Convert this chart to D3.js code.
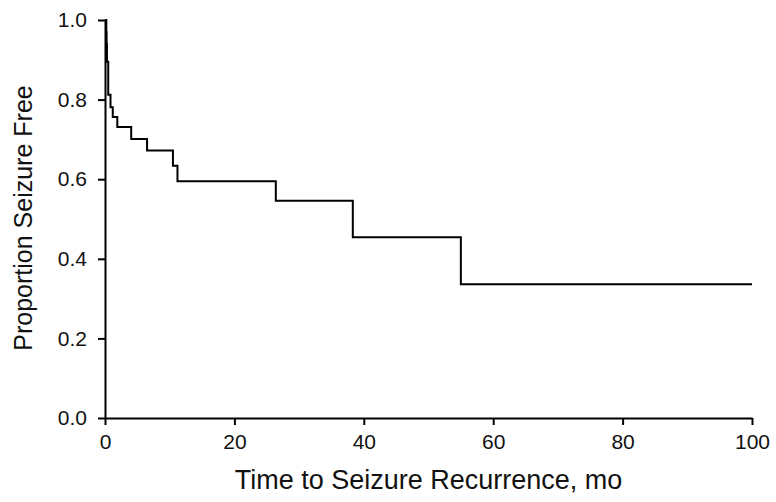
<!DOCTYPE html>
<html>
<head>
<meta charset="utf-8">
<script src="https://cdn.jsdelivr.net/npm/d3@7"></script>
<style>
  body { margin: 0; background: #fff; }
  svg text { font-family: "Liberation Sans", Arial, sans-serif; fill: #111; }
</style>
</head>
<body>
<svg id="chart" width="776" height="502"></svg>
<script>
// Kaplan-Meier step points: time (mo) and proportion after each drop
const times = [0, 0.2, 0.25, 0.3, 0.5, 0.85, 1.2, 1.9, 4.05, 6.5, 10.5, 11.2, 26.4, 38.3, 55.0, 100];
const survival = [1.0, 0.97, 0.94, 0.895, 0.812, 0.781, 0.756, 0.731, 0.701, 0.672, 0.634, 0.595, 0.546, 0.454, 0.336, 0.336];
const xTicks = [0, 20, 40, 60, 80, 100];
const yTicks = [0, 0.2, 0.4, 0.6, 0.8, 1.0];

const svg = d3.select('#chart');
const margin = { top: 20, right: 24, bottom: 84, left: 105 };
const width = 776 - margin.left - margin.right;
const height = 502 - margin.top - margin.bottom;

const g = svg.append('g').attr('transform', `translate(${margin.left},${margin.top})`);

const x = d3.scaleLinear().domain([0, 100]).range([0, width]);
const y = d3.scaleLinear().domain([0, 1]).range([height, 0]);

const data = times.map((t, i) => ({ t, s: survival[i] }));

const line = d3.line()
  .x(d => x(d.t))
  .y(d => y(d.s))
  .curve(d3.curveStepAfter);

g.append('path')
  .datum(data)
  .attr('fill', 'none')
  .attr('stroke', '#000')
  .attr('stroke-width', 2)
  .attr('d', line);

const xAxis = g.append('g')
  .attr('transform', `translate(0,${height})`)
  .call(d3.axisBottom(x).tickValues(xTicks).tickSize(7).tickSizeOuter(0).tickPadding(9));

const yAxis = g.append('g')
  .call(d3.axisLeft(y).tickValues(yTicks).tickSize(7).tickSizeOuter(0).tickPadding(11)
    .tickFormat(d3.format('.1f')));

[xAxis, yAxis].forEach(ax => {
  ax.select('.domain').attr('stroke', '#000').attr('stroke-width', 2);
  ax.selectAll('.tick line').attr('stroke', '#000').attr('stroke-width', 2);
  ax.selectAll('.tick text').style('font-size', '21px').attr('fill', '#111')
    .style('font-family', '"Liberation Sans", Arial, sans-serif');
});

svg.append('text')
  .attr('x', margin.left + width / 2)
  .attr('y', 489)
  .attr('text-anchor', 'middle')
  .style('font-size', '27px')
  .text('Time to Seizure Recurrence, mo');

svg.append('text')
  .attr('transform', `translate(32,${margin.top + height / 2 - 1}) rotate(-90)`)
  .attr('text-anchor', 'middle')
  .style('font-size', '25px')
  .text('Proportion Seizure Free');
</script>
</body>
</html>
